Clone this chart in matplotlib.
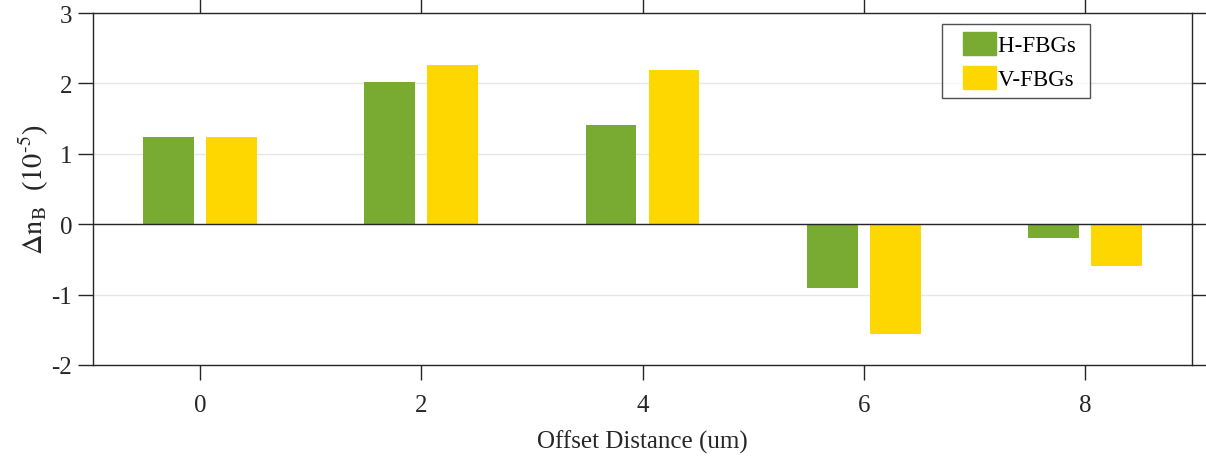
import numpy as np
import matplotlib
matplotlib.use('Agg')
import matplotlib.pyplot as plt
from matplotlib.patches import Rectangle
from matplotlib.legend_handler import HandlerPatch

plt.rcParams['font.family'] = ['Liberation Serif', 'DejaVu Serif']
plt.rcParams['mathtext.fontset'] = 'stix'
plt.rcParams['axes.unicode_minus'] = False

# Data
offsets = [0, 2, 4, 6, 8]
h_fbg = [1.24, 2.02, 1.41, -0.91, -0.19]
v_fbg = [1.24, 2.26, 2.19, -1.565, -0.59]
labels = ['H-FBGs', 'V-FBGs']

green = '#79AA31'
yellow = '#FFD700'

fig = plt.figure(figsize=(12.06, 4.64), dpi=100)
ax = fig.add_axes([93 / 1206, 1 - 366 / 464, (1192 - 93) / 1206, (366 - 14) / 464])

x = np.array(offsets)
w = 0.46
ax.bar(x - 0.285, h_fbg, w, color=green, zorder=3)
ax.bar(x + 0.285, v_fbg, w, color=yellow, zorder=3)
ax.axhline(0, color='#262626', lw=1.0, zorder=4)

ax.set_xlim(-0.97, 8.97)
ax.set_ylim(-2, 3)
ax.set_xticks(offsets)
ax.set_yticks(range(-2, 4))
ax.grid(axis='y', color='#e6e6e6', lw=1.0, zorder=0)
ax.set_axisbelow(True)

for s in ax.spines.values():
    s.set_color('#262626')
    s.set_linewidth(1.0)
ax.tick_params(direction='out', length=11, width=1.0, colors='#262626',
               labelsize=18, top=True, right=True, labeltop=False, labelright=False)
ax.tick_params(axis='x', pad=10)
ax.tick_params(axis='y', pad=4)

ax.set_xlabel('Offset Distance (um)', fontsize=18, color='#262626', labelpad=10)
ax.set_ylabel(r'$\Delta\mathrm{n_B}$  ($\mathrm{10^{\text{-}5}}$)', fontsize=20.5,
              color='#262626', labelpad=0)


# legend swatch with some extra space on its left, like the MATLAB legend
def swatch(legend, orig_handle, xdescent, ydescent, width, height, fontsize):
    extra = 9
    return Rectangle((-xdescent + extra, -ydescent), width - extra, height)


handles = [Rectangle((0, 0), 1, 1, color=green), Rectangle((0, 0), 1, 1, color=yellow)]
leg = ax.legend(handles, [s + ' ' for s in labels],
                loc='upper right', bbox_to_anchor=(0.9075, 0.969), borderaxespad=0,
                fontsize=16.5, frameon=True, fancybox=False, edgecolor='#262626',
                handlelength=2.0, handleheight=1.13, handletextpad=0.1,
                borderpad=0.36, labelspacing=0.44,
                handler_map={Rectangle: HandlerPatch(patch_func=swatch)})
leg.get_frame().set_linewidth(1.0)

fig.savefig('out.png', dpi=100)
